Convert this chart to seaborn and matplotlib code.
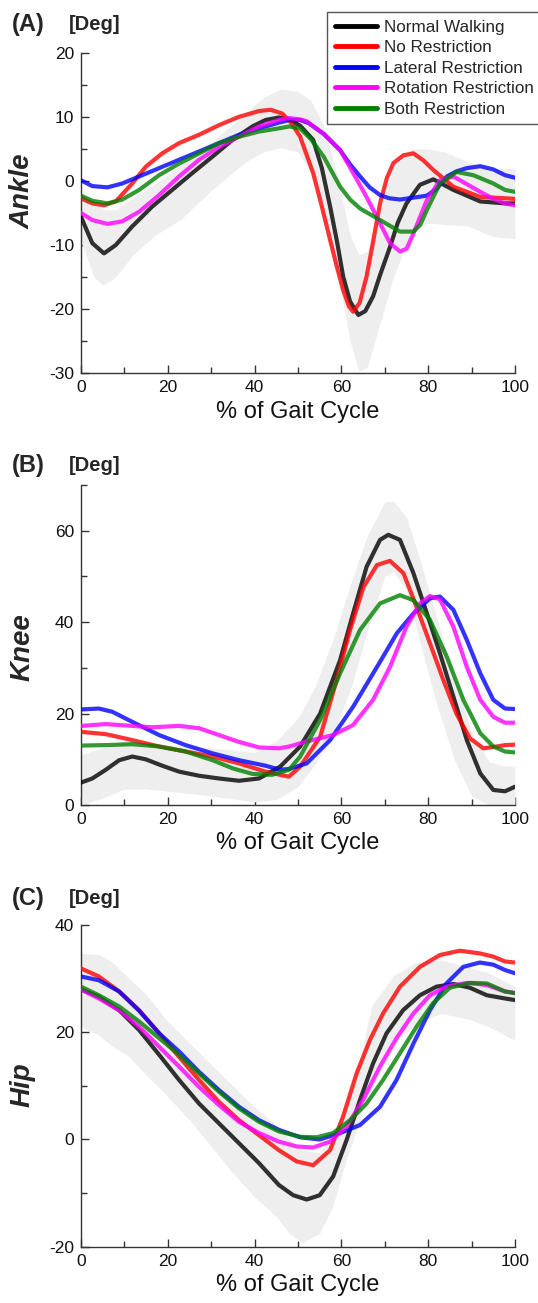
import pandas as pd
import matplotlib.pyplot as plt
import seaborn as sns
from matplotlib.ticker import MultipleLocator

sns.set_theme(style='ticks')
plt.rcParams['font.family'] = ['Liberation Sans', 'DejaVu Sans']
plt.rcParams['axes.unicode_minus'] = False

groups = ['Normal Walking', 'No Restriction', 'Lateral Restriction',
          'Rotation Restriction', 'Both Restriction']
colors = ['#000000', '#ff0000', '#0000ff', '#ff00ff', '#008000']

# ---- Ankle (A) ----
ankle_normal_x = [0, 2.6, 5.3, 8, 11.8, 16.4, 21, 25.6, 30.3, 34.9, 39.5, 42.5, 45.6, 48, 50.5, 53.5, 55.5, 57.4, 59, 60.4, 62, 63.9, 65.5, 67.3, 69, 71.2, 73, 75, 78.1, 81.2, 85.8, 92, 97.7, 100]
ankle_normal_y = [-5.6, -9.7, -11.3, -10, -7.1, -4, -1.4, 1.2, 3.8, 6.4, 8.5, 9.5, 9.9, 9.6, 8.6, 6.4, 2, -4, -9.5, -14.9, -18.8, -20.9, -20.3, -18, -14.5, -10.3, -6.5, -3.5, -0.6, 0.25, -1.4, -3.2, -3.5, -3.5]
ankle_norest_x = [0, 2.6, 5.3, 8, 11.8, 14.9, 18.7, 22.6, 27.2, 31.8, 36.4, 41, 43.7, 46.4, 48.5, 50.5, 53.5, 55.5, 57.4, 59, 60.4, 61.7, 62.7, 64.2, 65.8, 67.3, 68.9, 70.5, 72, 74.3, 76.6, 78.9, 81.2, 85.8, 92, 97.7, 100]
ankle_norest_y = [-2.7, -3.5, -3.8, -3.2, -0.4, 2.2, 4.3, 5.9, 7.2, 8.7, 10, 10.9, 11.1, 10.5, 9, 6.9, 1.2, -4, -9.2, -13.5, -17, -19.5, -20.4, -19, -14.9, -9.5, -3.5, 0.5, 2.8, 4, 4.3, 3.2, 1.7, -0.9, -2.5, -2.7, -2.8]
ankle_lateral_x = [0, 2.6, 6.1, 9.5, 13.4, 18, 22.6, 27.2, 31.8, 36.4, 41, 45.6, 48, 50.5, 52.5, 56, 59.7, 62, 64.3, 66.5, 68.9, 71, 73.5, 79.7, 82, 84.3, 86.5, 88.9, 92, 95, 97.7, 100]
ankle_lateral_y = [0.1, -0.8, -1.0, -0.4, 0.7, 2.0, 3.3, 4.6, 5.9, 7.2, 8.2, 9.1, 9.5, 9.5, 9.0, 7.3, 4.8, 2.6, 0.7, -1, -2.2, -2.7, -2.9, -2.3, -1.2, 0.7, 1.5, 2.0, 2.3, 1.8, 0.9, 0.5]
ankle_rotation_x = [0, 2.6, 6.1, 9.5, 13.4, 18, 22.6, 27.2, 31.8, 36.4, 41, 45.6, 48, 50.5, 52, 56, 59.7, 62.5, 65.8, 68.9, 71.2, 73.5, 75, 76.6, 78.2, 79.7, 82.7, 85.8, 88.9, 92, 95, 97.7, 100]
ankle_rotation_y = [-5, -6.1, -6.7, -6.3, -4.8, -2.2, 0.7, 3.3, 5.3, 6.9, 8.5, 9.5, 9.8, 9.6, 9.3, 7.3, 4.8, 1.5, -2.5, -6.6, -9.7, -11, -10.6, -8.2, -5.5, -3, 0.1, 0.7, -0.5, -1.7, -2.8, -3.5, -3.8]
ankle_both_x = [0, 2.6, 6.1, 9.5, 13.4, 18, 22.6, 27.2, 31.8, 36.4, 41, 45.6, 48, 50.5, 53, 55.9, 59.7, 62, 64.3, 68.9, 73.5, 76.6, 78.2, 79.7, 82.7, 86.5, 90.4, 95, 97.7, 100]
ankle_both_y = [-2.3, -3.1, -3.5, -2.9, -1.4, 0.9, 2.7, 4.3, 5.9, 6.9, 7.7, 8.2, 8.5, 8.2, 6.5, 3.8, -0.9, -2.9, -4.3, -6.1, -7.9, -7.9, -6.8, -4.5, -0.4, 1.4, 0.9, -0.4, -1.4, -1.7]
ankle_band_x = [0, 3, 5, 8, 12, 17, 23, 30, 38, 42, 46, 50, 53, 56, 59, 62, 64, 66, 69, 72, 76, 80, 84, 89, 95, 100]
ankle_band_lo = [-9.5, -15, -16.3, -15, -11.5, -8.5, -6, -1.5, 3, 4.5, 5.2, 4.5, 1.5, -4, -14, -25, -29.7, -29, -22, -15, -8, -6.6, -6.8, -7, -8.7, -9]
ankle_band_hi = [-2, -3, -4.5, -4.5, -2.5, -0.5, 2.5, 6, 10.5, 13, 14.3, 14, 12.5, 8.5, 1, -8.5, -11.5, -11, -4, 2, 5, 5, 4.5, 3, 1.8, 2]

# ---- Knee (B) ----
knee_normal_x = [0, 2.6, 5.7, 8.8, 11.8, 14.9, 18.7, 22.6, 27.2, 31.8, 36.4, 41, 45.9, 50.5, 55.1, 59.7, 62.7, 65.8, 68.9, 70.8, 73.5, 76.6, 79.7, 82.7, 85.8, 88.9, 92, 95, 97.7, 100]
knee_normal_y = [4.9, 5.8, 7.7, 9.8, 10.6, 10.0, 8.6, 7.3, 6.4, 5.8, 5.3, 5.8, 8.4, 12.8, 20, 31.7, 41.9, 52.1, 58, 59.1, 58, 50.7, 41.9, 33.2, 23.7, 14.2, 6.9, 3.3, 3.0, 4]
knee_norest_x = [0, 5.7, 11.8, 18, 24.1, 30.3, 36.4, 42.5, 45.9, 47.9, 50.5, 55.1, 58.9, 62, 65.1, 68.2, 71.2, 74.3, 77.3, 80.4, 83.5, 86.5, 89.6, 92.7, 95.8, 97.7, 100]
knee_norest_y = [16, 15.5, 14.2, 12.8, 11.7, 10.6, 9.1, 7.3, 6.6, 6.2, 8.4, 14.9, 27.3, 38.3, 47.7, 52.5, 53.4, 50.7, 43.4, 35.4, 27.3, 20, 14.6, 12.4, 12.8, 13.1, 13.2]
knee_lateral_x = [0, 4.1, 7.2, 11.8, 18, 24.1, 30.3, 36.4, 42.5, 45.9, 48, 52, 57.4, 62.7, 68.2, 72.8, 76.6, 80.4, 82.7, 85.8, 88.9, 92, 95, 97.7, 100]
knee_lateral_y = [20.9, 21.1, 20.4, 18.2, 15.3, 13.1, 11.3, 9.8, 8.6, 7.7, 7.9, 9.1, 14.2, 21.5, 30.2, 37.6, 41.9, 45.2, 45.6, 42.7, 36.1, 28.8, 23, 21.1, 21]
knee_rotation_x = [0, 5.7, 11.8, 16.4, 22.6, 27.2, 31.8, 36.4, 41, 45.6, 48, 52, 58.1, 62.7, 67.3, 71.2, 75, 78.1, 80.4, 82.7, 85.8, 88.9, 92, 95, 97.7, 100]
knee_rotation_y = [17.3, 17.7, 17.3, 17.0, 17.3, 16.8, 15.3, 13.8, 12.6, 12.4, 12.8, 13.9, 15.3, 17.5, 23, 30.2, 39, 44.1, 45.7, 45, 39, 30.2, 23, 19.3, 18, 18]
knee_both_x = [0, 5.7, 11.8, 18, 24.1, 30.3, 35, 39.5, 44, 47.9, 50.5, 55.1, 59.7, 64.3, 68.9, 73.5, 76.6, 80.4, 84.3, 88.1, 92, 95, 97.7, 100]
knee_both_y = [13, 13.1, 13.3, 12.8, 11.7, 9.8, 8.0, 6.8, 6.6, 7.7, 10.6, 18.6, 28.8, 38.3, 44.1, 45.9, 44.8, 40.5, 32.4, 23, 15.7, 12.8, 11.7, 11.5]
knee_band_x = [0, 5, 10, 15, 20, 30, 40, 45, 50, 54, 58, 62, 66, 70, 72, 75, 78, 82, 86, 90, 94, 97, 100]
knee_band_lo = [0, 1.5, 3.5, 3.5, 3, 2, 0.7, 1.2, 4, 9, 15, 25, 38, 50, 51, 47, 36, 22, 10, 2, 0, 0, 0]
knee_band_hi = [11, 12.5, 14, 13.5, 13, 12.5, 11.5, 14, 19, 26, 36, 48, 59, 66.3, 66.5, 63, 54, 41, 28, 16, 9.5, 8.6, 8.5]

# ---- Hip (C) ----
hip_normal_x = [0, 4.1, 8.8, 13.4, 18, 22.6, 27.2, 31.8, 36.4, 41, 45.6, 48.9, 52, 55, 58.1, 61.2, 64.3, 67.3, 70.4, 74.2, 78.1, 81.9, 85.8, 89.6, 93.5, 97.7, 100]
hip_normal_y = [28, 26.6, 24.1, 20.4, 15.8, 11.1, 6.7, 3.0, -0.7, -4.4, -8.5, -10.4, -11.2, -10.4, -6.9, -0.1, 7.4, 14.2, 19.8, 24.1, 26.9, 28.5, 29, 28.3, 26.9, 26.3, 26]
hip_norest_x = [0, 4.1, 8.8, 13.4, 18, 22.6, 27.2, 31.8, 36.4, 41, 45.6, 49.7, 53.5, 57.4, 60.4, 63.5, 66.6, 69.6, 73.5, 78.1, 82.7, 87.3, 91.9, 95, 97.7, 100]
hip_norest_y = [31.9, 30.4, 27.6, 24.1, 19.8, 15.4, 11.1, 7.0, 3.6, 0.8, -2.0, -4.1, -4.8, -2.0, 4.3, 12.3, 18.6, 23.5, 28.5, 32.2, 34.4, 35.2, 34.7, 34.1, 33.2, 33]
hip_lateral_x = [0, 4.1, 8.8, 13.4, 18, 22.6, 27.2, 31.8, 36.4, 41, 45.6, 50.5, 55, 59.7, 64.3, 68.9, 72.7, 76.6, 80.4, 84.2, 88.1, 91.9, 95, 97.7, 100]
hip_lateral_y = [30.4, 29.7, 27.6, 24, 19.8, 16.4, 12.6, 9.2, 6.1, 3.6, 1.8, 0.4, 0.0, 1.2, 2.7, 6.1, 11.1, 17.9, 24.1, 29.1, 32.2, 33, 32.6, 31.6, 31]
hip_rotation_x = [0, 4.1, 8.8, 13.4, 18, 22.6, 27.2, 31.8, 36.4, 41, 45.6, 49.7, 53.5, 57.4, 61.2, 65, 68.9, 72.7, 76.6, 80.4, 84.2, 88.9, 93.5, 97.7, 100]
hip_rotation_y = [28, 26.3, 24.1, 21.0, 17.3, 13.6, 9.8, 6.4, 3.3, 1.2, -0.4, -1.3, -1.5, -0.4, 2.4, 7.4, 13.6, 18.9, 23.5, 26.9, 28.5, 29.2, 28.8, 27.6, 27.3]
hip_both_x = [0, 4.1, 8.8, 13.4, 18, 22.6, 27.2, 31.8, 36.4, 41, 45.6, 50.5, 54.3, 58.1, 62, 65.8, 69.6, 73.5, 77.3, 81.1, 85, 89.6, 93.5, 97.7, 100]
hip_both_y = [28.5, 26.9, 24.8, 22.0, 18.9, 15.8, 12.3, 8.9, 5.8, 3.3, 1.5, 0.5, 0.4, 1.2, 3.6, 6.7, 11.1, 16.1, 21, 25.4, 28.3, 29.2, 29.1, 27.6, 27.3]
hip_band_x = [0, 4, 7, 11, 15, 20, 25, 30, 35, 40, 45, 48, 51, 55, 58, 61, 64, 67, 72, 77, 83, 89, 94, 100]
hip_band_lo = [21, 19.5, 17.5, 15.5, 12, 8, 3.6, -1.3, -6.3, -10.7, -14.4, -17.5, -19.3, -17.5, -12.5, -4, 3, 11, 18, 21.5, 23.5, 22.5, 21, 18.5]
hip_band_hi = [34.7, 34.5, 33.2, 30.1, 27, 22, 18, 14, 10, 6, 2.7, 0, -2, -2.5, 1, 6.5, 14, 25, 30.5, 33, 33.5, 32.2, 31, 28.5]


def long_frame(xs, ys):
    parts = []
    for g, x, y in zip(groups, xs, ys):
        parts.append(pd.DataFrame({'pct': x, 'deg': y, 'group': g}))
    return pd.concat(parts, ignore_index=True)


panels = [
    dict(tag='(A)', name='Ankle', ylim=(-30, 20), major=10, minor=5,
         df=long_frame([ankle_normal_x, ankle_norest_x, ankle_lateral_x, ankle_rotation_x, ankle_both_x],
                       [ankle_normal_y, ankle_norest_y, ankle_lateral_y, ankle_rotation_y, ankle_both_y]),
         band=(ankle_band_x, ankle_band_lo, ankle_band_hi),
         top=52.7, bottom=373.3, tag_y=25, ylab_y=191),
    dict(tag='(B)', name='Knee', ylim=(0, 70), major=20, minor=10,
         df=long_frame([knee_normal_x, knee_norest_x, knee_lateral_x, knee_rotation_x, knee_both_x],
                       [knee_normal_y, knee_norest_y, knee_lateral_y, knee_rotation_y, knee_both_y]),
         band=(knee_band_x, knee_band_lo, knee_band_hi),
         top=485, bottom=805, tag_y=465, ylab_y=647),
    dict(tag='(C)', name='Hip', ylim=(-20, 40), major=20, minor=10,
         df=long_frame([hip_normal_x, hip_norest_x, hip_lateral_x, hip_rotation_x, hip_both_x],
                       [hip_normal_y, hip_norest_y, hip_lateral_y, hip_rotation_y, hip_both_y]),
         band=(hip_band_x, hip_band_lo, hip_band_hi),
         top=925, bottom=1246.7, tag_y=898, ylab_y=1085),
]

W, H = 538, 1303
LEFT, RIGHT = 81, 515
fig = plt.figure(figsize=(W / 100, H / 100), dpi=100)

for i, p in enumerate(panels):
    ax = fig.add_axes([LEFT / W, 1 - p['bottom'] / H, (RIGHT - LEFT) / W,
                       (p['bottom'] - p['top']) / H])
    bx, blo, bhi = p['band']
    ax.fill_between(bx, blo, bhi, color='#eeeeee', lw=0, zorder=1)
    sns.lineplot(data=p['df'], x='pct', y='deg', hue='group', hue_order=groups,
                 palette=colors, estimator=None, sort=False, lw=3, alpha=0.8,
                 ax=ax, legend=(i == 0), zorder=3)
    ax.set_xlim(0, 100)
    ax.set_ylim(*p['ylim'])
    ax.xaxis.set_major_locator(MultipleLocator(20))
    ax.xaxis.set_minor_locator(MultipleLocator(10))
    ax.yaxis.set_major_locator(MultipleLocator(p['major']))
    ax.yaxis.set_minor_locator(MultipleLocator(p['minor']))
    ax.tick_params(which='both', direction='in', color='#333333', labelsize=12.5,
                   labelcolor='#111111', width=1)
    ax.tick_params(which='major', length=6, pad=5)
    ax.tick_params(which='minor', length=4)
    sns.despine(ax=ax)
    for s in ('left', 'bottom'):
        ax.spines[s].set_color('#333333')
        ax.spines[s].set_linewidth(1)
    ax.set_xlabel('% of Gait Cycle', fontsize=17, labelpad=4, color='#111111')
    ax.set_ylabel('')
    fig.text(12 / W, 1 - p['tag_y'] / H, p['tag'], fontsize=17, fontweight='bold',
             va='center', ha='left')
    fig.text(69 / W, 1 - p['tag_y'] / H, '[Deg]', fontsize=14.5, fontweight='bold',
             va='center', ha='left')
    fig.text(23 / W, 1 - p['ylab_y'] / H, p['name'], fontsize=20, fontweight='bold',
             fontstyle='italic', rotation=90, va='center', ha='center')
    if i == 0:
        handles, labels = ax.get_legend_handles_labels()
        for h in handles:
            h.set_linewidth(3.5)
            h.set_alpha(1)
        ax.legend(handles, labels, loc='upper left',
                  bbox_to_anchor=(327 / W, 1 - 12 / H), bbox_transform=fig.transFigure,
                  frameon=True, fancybox=False, edgecolor='#555555', fontsize=12.3,
                  handlelength=2.45, handletextpad=0.45, labelspacing=0.32,
                  borderpad=0.45, borderaxespad=0, framealpha=1)

fig.savefig('out.png', dpi=100)
